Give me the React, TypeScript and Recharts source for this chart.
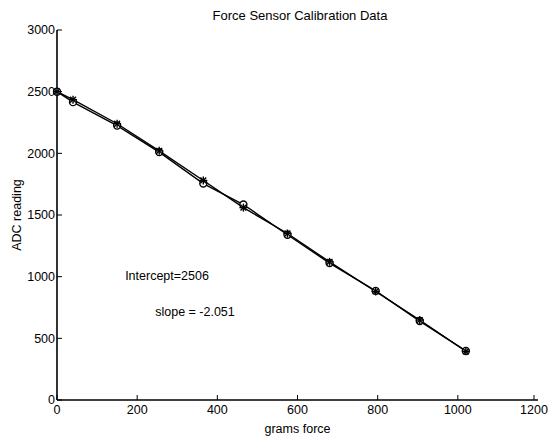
import React from "react";
import { LineChart, Line, XAxis, YAxis, ReferenceDot } from "recharts";

const grams = [0, 40, 150, 255, 365, 465, 575, 680, 795, 905, 1020];
const circleSeries = [2500, 2415, 2225, 2010, 1755, 1585, 1340, 1110, 885, 640, 398];
const starSeries = [2500, 2435, 2240, 2020, 1780, 1560, 1350, 1120, 880, 648, 395];
const xTicks = [0, 200, 400, 600, 800, 1000, 1200];
const yTicks = [0, 500, 1000, 1500, 2000, 2500, 3000];
const annotations = [
  { x: 170, y: 1010, text: "Intercept=2506" },
  { x: 245, y: 715, text: "slope = -2.051" },
];

const data = grams.map((g, i) => ({ g, circ: circleSeries[i], star: starSeries[i] }));

const FONT = "'Liberation Sans', Arial, Helvetica, sans-serif";
const FS = 12.5;

const CircleDot = (p: any) => (
  <circle cx={p.cx} cy={p.cy} r={3.5} fill="white" stroke="black" strokeWidth={1.4} />
);
const StarDot = (p: any) => {
  const { cx, cy } = p;
  const s = 4;
  const d = 2.9;
  return (
    <g stroke="black" strokeWidth={1.4}>
      <line x1={cx - s} y1={cy} x2={cx + s} y2={cy} />
      <line x1={cx} y1={cy - s} x2={cx} y2={cy + s} />
      <line x1={cx - d} y1={cy - d} x2={cx + d} y2={cy + d} />
      <line x1={cx - d} y1={cy + d} x2={cx + d} y2={cy - d} />
    </g>
  );
};

const BottomTick = (p: any) => (
  <g>
    <line x1={p.x} y1={p.y} x2={p.x} y2={p.y - 5} stroke="black" strokeWidth={1} />
    <text x={p.x} y={p.y + 14} textAnchor="middle" fontSize={FS} fontFamily={FONT} fill="black">
      {p.payload.value}
    </text>
  </g>
);
const TopTick = (p: any) => (
  <line x1={p.x} y1={p.y} x2={p.x} y2={p.y + 5} stroke="black" strokeWidth={1} />
);
const LeftTick = (p: any) => (
  <g>
    <line x1={p.x} y1={p.y} x2={p.x + 5} y2={p.y} stroke="black" strokeWidth={1} />
    <text x={p.x - 2} y={p.y} dy="0.35em" textAnchor="end" fontSize={FS} fontFamily={FONT} fill="black">
      {p.payload.value}
    </text>
  </g>
);
const RightTick = (p: any) => (
  <line x1={p.x} y1={p.y} x2={p.x - 5} y2={p.y} stroke="black" strokeWidth={1} />
);

export default function App() {
  return (
    <div style={{ position: "absolute", left: 0, top: 0, width: 550, height: 437, background: "white" }}>
      <LineChart width={550} height={437} data={data} margin={{ top: 30, right: 12, left: 0, bottom: 0 }}>
        <text x={300} y={20} textAnchor="middle" fontSize={13} fontFamily={FONT} fill="black">
          Force Sensor Calibration Data
        </text>
        <XAxis
          dataKey="g"
          type="number"
          domain={[0, 1200]}
          ticks={xTicks}
          height={37}
          tickSize={0}
          tickMargin={0}
          tick={BottomTick}
          tickLine={false}
          axisLine={{ stroke: "black", strokeWidth: 1.6 }}
          label={{
            content: (lp: any) => {
              const vb = lp.viewBox;
              return (
                <text x={vb.x + vb.width / 2} y={vb.y + 33} textAnchor="middle" fontSize={FS} fontFamily={FONT} fill="black">
                  grams force
                </text>
              );
            },
          }}
        />
        <XAxis
          xAxisId="top"
          dataKey="g"
          type="number"
          orientation="top"
          domain={[0, 1200]}
          ticks={xTicks}
          height={0}
          tickSize={0}
          tickMargin={0}
          tick={TopTick}
          tickLine={false}
          axisLine={{ stroke: "black", strokeWidth: 1.6 }}
        />
        <YAxis
          type="number"
          domain={[0, 3000]}
          ticks={yTicks}
          width={57}
          tickSize={0}
          tickMargin={0}
          tick={LeftTick}
          tickLine={false}
          axisLine={{ stroke: "black", strokeWidth: 1.6 }}
          label={{
            content: (lp: any) => {
              const vb = lp.viewBox;
              const cx = vb.x + 17;
              const cy = vb.y + vb.height / 2;
              return (
                <text x={cx} y={cy} transform={`rotate(-90 ${cx} ${cy})`} textAnchor="middle" dy="0.35em" fontSize={FS} fontFamily={FONT} fill="black">
                  ADC reading
                </text>
              );
            },
          }}
        />
        <YAxis
          yAxisId="right"
          orientation="right"
          type="number"
          domain={[0, 3000]}
          ticks={yTicks}
          width={0}
          tickSize={0}
          tickMargin={0}
          tick={RightTick}
          tickLine={false}
          axisLine={{ stroke: "black", strokeWidth: 1.6 }}
        />
        <Line
          dataKey="circ"
          type="linear"
          stroke="black"
          strokeWidth={1.4}
          dot={CircleDot}
          activeDot={false}
          isAnimationActive={false}
        />
        <Line
          dataKey="star"
          type="linear"
          stroke="black"
          strokeWidth={1.4}
          dot={StarDot}
          activeDot={false}
          isAnimationActive={false}
        />
        {annotations.map((a, i) => (
          <ReferenceDot
            key={i}
            x={a.x}
            y={a.y}
            r={0}
            fill="none"
            stroke="none"
            label={{
              content: (lp: any) => {
                const vb = lp.viewBox;
                return (
                  <text x={vb.x} y={vb.y} dy="0.35em" textAnchor="start" fontSize={FS} fontFamily={FONT} fill="black">
                    {a.text}
                  </text>
                );
              },
            }}
          />
        ))}
      </LineChart>
    </div>
  );
}
